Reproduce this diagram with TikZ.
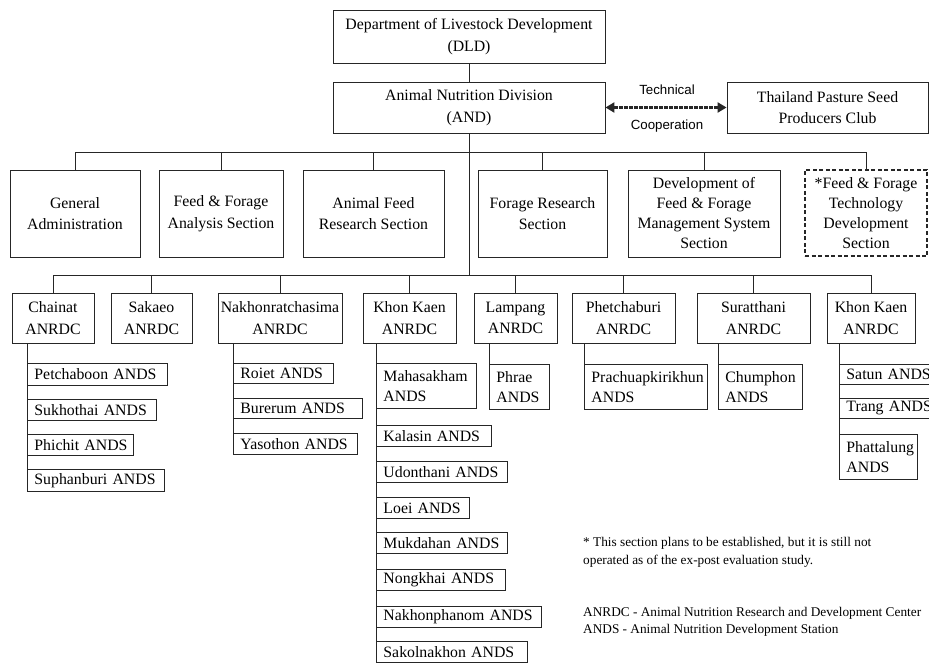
\documentclass[tikz,border=0pt]{standalone}
\usepackage{fontspec}
\setmainfont{Liberation Serif}
\newfontfamily\arialf{Liberation Sans}
\usetikzlibrary{arrows.meta}
\begin{document}
\begin{tikzpicture}[x=1pt,y=-1pt,
  ln/.style={line width=0.9pt, draw=black!85},
  box/.style={ln, draw, align=center, inner sep=0pt, font=\fontsize{15.8}{21.5}\selectfont},
  boxfour/.style={box, font=\fontsize{15.8}{20}\selectfont},
  dbox/.style={boxfour, line width=1.3pt, dash pattern=on 4pt off 2.5pt},
  st/.style={ln, draw, anchor=north west, inner xsep=7pt, inner ysep=0pt, align=left, font=\fontsize{15.8}{20}\selectfont},
  note/.style={anchor=base west, inner sep=0pt, font=\fontsize{13.3}{16}\selectfont},
  sans/.style={inner sep=0pt, font=\arialf\fontsize{13.3}{16}\selectfont},
  coop/.style={line width=2.2pt, draw=black!85, dash pattern=on 1.6pt off 0.9pt,
    {Triangle[length=9pt,width=10pt]}-{Triangle[length=9pt,width=10pt]}},
]
\useasboundingbox (0,0) rectangle (929,663);

% top level
\node[box, minimum width=272pt, minimum height=53pt] (dld) at (469,36.5) {Department of Livestock Development\\(DLD)};
\node[box, minimum width=272pt, minimum height=51pt] (anddiv) at (469,107.5) {Animal Nutrition Division\\(AND)};
\node[box, minimum width=201pt, minimum height=51pt] (tpsc) at (827.5,107.5) {Thailand Pasture Seed\\Producers Club};
\node[sans] (tech) at (667,90) {Technical};
\node[sans] (coopt) at (667,126) {Cooperation};

% sections
\node[box, minimum width=130pt, minimum height=87pt] (gen) at (75,213.5) {General\\Administration};
\node[box, minimum width=124pt, minimum height=87pt] (ffa) at (221,213.5) {Feed \& Forage\\Analysis Section};
\node[box, minimum width=141pt, minimum height=87pt] (afr) at (373.5,213.5) {Animal Feed\\Research Section};
\node[box, minimum width=129pt, minimum height=87pt] (frs) at (542.5,213.5) {Forage Research\\Section};
\node[boxfour, minimum width=152pt, minimum height=87pt] (dev) at (704,213.5) {Development of\\Feed \& Forage\\Management System\\Section};
\node[dbox, minimum width=122pt, minimum height=86pt] (fft) at (866,213) {*Feed \& Forage\\Technology\\Development\\Section};

% ANRDCs
\node[box, minimum width=82pt, minimum height=50pt] (chai) at (53,318) {Chainat\\ANRDC};
\node[box, minimum width=81pt, minimum height=50pt] (sak) at (151.5,318) {Sakaeo\\ANRDC};
\node[box, minimum width=124pt, minimum height=50pt] (nak) at (280,318) {Nakhonratchasima\\ANRDC};
\node[box, minimum width=93pt, minimum height=50pt] (kka) at (409.5,318) {Khon Kaen\\ANRDC};
\node[box, minimum width=83pt, minimum height=50pt] (lam) at (515.5,318) {Lampang\\ANRDC};
\node[box, minimum width=103pt, minimum height=50pt] (phe) at (623.5,318) {Phetchaburi\\ANRDC};
\node[box, minimum width=113pt, minimum height=50pt] (sur) at (753.5,318) {Suratthani\\ANRDC};
\node[box, minimum width=88pt, minimum height=50pt] (kkb) at (871,318) {Khon Kaen\\ANRDC};

% stations: Chainat
\node[st, text width=126pt, minimum height=22pt] (petch) at (27,363) {\mbox{Petchaboon ANDS}};
\node[st, text width=115pt, minimum height=21pt] (sukh) at (27,399) {\mbox{Sukhothai ANDS}};
\node[st, text width=92pt, minimum height=21pt] (phic) at (27,434) {\mbox{Phichit ANDS}};
\node[st, text width=123pt, minimum height=22pt] (suph) at (27,469) {\mbox{Suphanburi ANDS}};
% Nakhonratchasima
\node[st, text width=86pt, minimum height=20pt] (roi) at (233,363) {\mbox{Roiet ANDS}};
\node[st, text width=115pt, minimum height=20pt] (bur) at (233,398) {\mbox{Burerum ANDS}};
\node[st, text width=110pt, minimum height=21pt] (yas) at (233,433) {\mbox{Yasothon ANDS}};
% Khon Kaen
\node[st, text width=86pt, minimum height=45pt] (maha) at (376,363) {\mbox{Mahasakham}\\\mbox{ANDS}};
\node[st, text width=101pt, minimum height=21pt] (kal) at (376,425) {\mbox{Kalasin ANDS}};
\node[st, text width=117pt, minimum height=21pt] (udo) at (376,461) {\mbox{Udonthani ANDS}};
\node[st, text width=79pt, minimum height=21pt] (loei) at (376,497) {\mbox{Loei ANDS}};
\node[st, text width=117pt, minimum height=21pt] (muk) at (376,532) {\mbox{Mukdahan ANDS}};
\node[st, text width=115pt, minimum height=21pt] (nong) at (376,569) {\mbox{Nongkhai ANDS}};
\node[st, text width=151pt, minimum height=21pt] (nakp) at (376,606) {\mbox{Nakhonphanom ANDS}};
\node[st, text width=137pt, minimum height=21pt] (sako) at (376,641) {\mbox{Sakolnakhon ANDS}};
% Lampang, Phetchaburi, Suratthani
\node[st, text width=46pt, minimum height=45pt] (phr) at (489,364) {\mbox{Phrae}\\\mbox{ANDS}};
\node[st, text width=109pt, minimum height=45pt] (pra) at (584,364) {\mbox{Prachuapkirikhun}\\\mbox{ANDS}};
\node[st, text width=70pt, minimum height=45pt] (chu) at (718,364) {\mbox{Chumphon}\\\mbox{ANDS}};
% Khon Kaen (south)
\node[st, text width=96pt, minimum height=20pt] (sat) at (839,364) {\mbox{Satun ANDS}};
\node[st, text width=96pt, minimum height=20pt] (tra) at (839,398) {\mbox{Trang ANDS}};
\node[st, text width=64pt, minimum height=45pt] (pha) at (839,434) {\mbox{Phattalung}\\\mbox{ANDS}};

% notes
\node[note] (n1a) at (583,546.5) {* This section plans to be established, but it is still not};
\node[note] (n1b) at (583,564.5) {operated as of the ex-post evaluation study.};
\node[note] (n2a) at (583,616.5) {ANRDC - Animal Nutrition Research and Development Center};
\node[note] (n2b) at (583,633.5) {ANDS - Animal Nutrition Development Station};

% connectors
\coordinate (sbus) at (469,152);
\coordinate (abus) at (469,275);
\draw[ln] (dld.south) -- (anddiv.north);
\draw[ln] (anddiv.south) -- (abus);
\draw[coop] (anddiv.east) -- (tpsc.west);
\draw[ln] (gen.north |- sbus) -- (fft.north |- sbus);
\foreach \n in {gen,ffa,afr,frs,dev,fft} \draw[ln] (\n.north) -- (\n.north |- sbus);
\draw[ln] (chai.north |- abus) -- (kkb.north |- abus);
\foreach \n in {chai,sak,nak,kka,lam,phe,sur,kkb} \draw[ln] (\n.north) -- (\n.north |- abus);
\draw[ln] (petch.north west |- chai.south) -- (suph.south west);
\draw[ln] (roi.north west |- nak.south) -- (yas.south west);
\draw[ln] (maha.north west |- kka.south) -- (sako.south west);
\draw[ln] (phr.north west |- lam.south) -- (phr.north west);
\draw[ln] (pra.north west |- phe.south) -- (pra.north west);
\draw[ln] (chu.north west |- sur.south) -- (chu.north west);
\draw[ln] (sat.north west |- kkb.south) -- (pha.south west);
\end{tikzpicture}
\end{document}
